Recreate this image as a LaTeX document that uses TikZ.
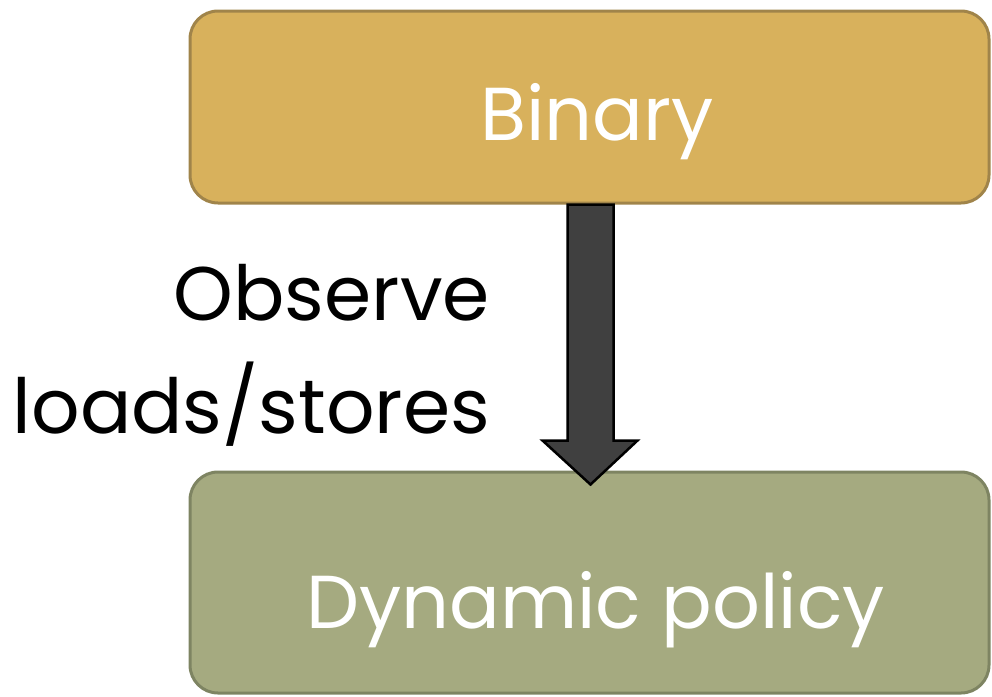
\documentclass[tikz,border=0pt]{standalone}
\usepackage{fontspec}
\setmainfont{Poppins}
\usetikzlibrary{calc}
\definecolor{goldfill}{HTML}{D8B15C}
\definecolor{goldline}{HTML}{A0844A}
\definecolor{olivefill}{HTML}{A5AA80}
\definecolor{oliveline}{HTML}{7E8462}
\definecolor{arrowfill}{HTML}{404040}
\tikzset{
  box/.style={rounded corners=28pt, line width=3pt, inner sep=0pt, text=white,
    font=\fontsize{75}{88}\selectfont, minimum width=799pt},
  lbl/.style={inner sep=0pt, anchor=base east, font=\fontsize{76}{88}\selectfont},
  blockarrow/.style={fill=arrowfill, draw=black, line width=2.5pt, line join=miter}
}
\begin{document}
\begin{tikzpicture}[x=1pt,y=-1pt]
\useasboundingbox (0,0) rectangle (992,696);
\node[box, fill=goldfill, draw=goldline, minimum height=192pt, text height=66pt, text depth=0pt] (bin) at (589.5,107) {\hspace*{15pt}Binary};
\node[box, fill=olivefill, draw=oliveline, minimum height=221pt, text height=91pt, text depth=0pt] (dyn) at (589.5,582.5) {\hspace*{12pt}Dynamic policy};
\draw[blockarrow]
  ($(bin.south)+(-22,0)$) -- ($(bin.south)+(24,0)$) -- ($(bin.south)+(24,236)$)
  -- ($(bin.south)+(48,236)$) -- ($(dyn.north)+(1,14)$) -- ($(bin.south)+(-47,236)$)
  -- ($(bin.south)+(-22,236)$) -- cycle;
\node[lbl] (obs) at (490,320) {Observe};
\node[lbl] (ls) at (490,433) {loads/stores};
\end{tikzpicture}
\end{document}
